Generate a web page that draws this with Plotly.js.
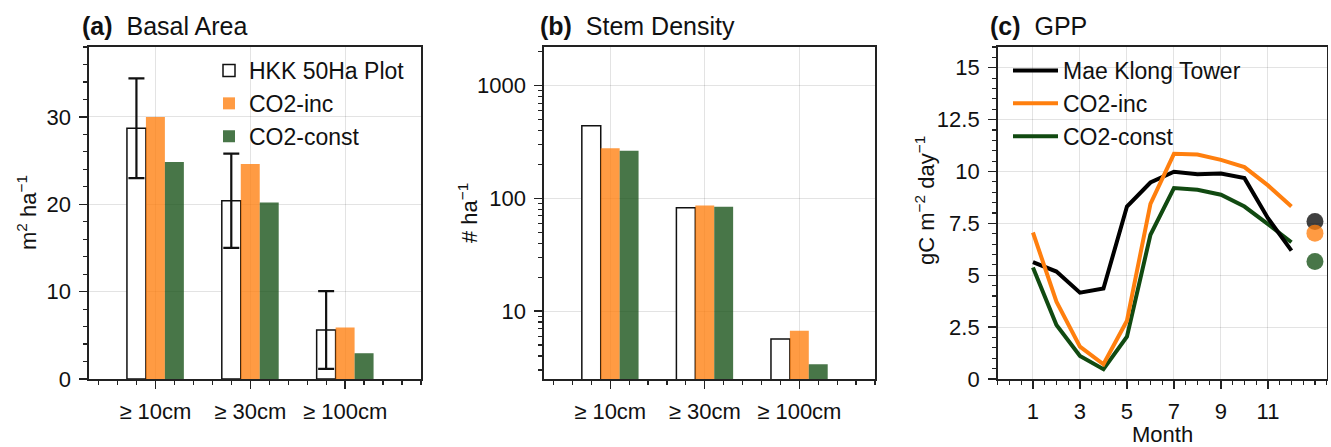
<!DOCTYPE html>
<html>
<head>
<meta charset="utf-8">
<script src="https://cdn.plot.ly/plotly-3.0.1.min.js"></script>
<style>html,body{margin:0;padding:0;background:#fff;}#chart{width:1331px;height:447px;}</style>
</head>
<body>
<div id="chart"></div>
<script>
// ---- data ----
const categories = ['≥ 10cm', '≥ 30cm', '≥ 100cm'];
const basalHKK = [28.7, 20.4, 5.6];
const basalHKKErr = [5.7, 5.4, 4.45];
const basalInc = [30.0, 24.6, 5.9];
const basalConst = [24.85, 20.2, 2.95];
const stemHKK = [441, 82.6, 5.65];
const stemInc = [278, 86.7, 6.7];
const stemConst = [265, 84.4, 3.38];
const months = [1, 2, 3, 4, 5, 6, 7, 8, 9, 10, 11, 12];
const gppTower = [5.63, 5.18, 4.16, 4.36, 8.31, 9.47, 9.99, 9.87, 9.9, 9.68, 7.75, 6.19];
const gppInc = [7.06, 3.73, 1.56, 0.71, 2.81, 8.44, 10.85, 10.82, 10.56, 10.21, 9.33, 8.31];
const gppConst = [5.37, 2.6, 1.11, 0.47, 2.04, 6.95, 9.2, 9.12, 8.88, 8.31, 7.46, 6.59];
const meanPos = [13];
const meanTower = [7.59];
const meanInc = [7.03];
const meanConst = [5.66];
const monthTicks = [1, 3, 5, 7, 9, 11];

// ---- styles ----
const FONT = 'Liberation Sans, Arial, Helvetica, sans-serif';
const ORANGE_BAR = 'rgba(255,127,14,0.78)';
const GREEN_BAR = 'rgba(20,80,20,0.78)';
const ORANGE_LINE = '#ff7f0e';
const GREEN_LINE = '#114a11';
const catIdx = categories.map((_, i) => i);

const traces = [
  {type:'bar', x:catIdx, y:basalHKK, name:'HKK 50Ha Plot', xaxis:'x', yaxis:'y',
   marker:{color:'#ffffff', line:{color:'#111', width:1.5}},
   error_y:{type:'data', array:basalHKKErr, visible:true, color:'#111', thickness:2.2, width:8}},
  {type:'bar', x:catIdx, y:basalInc, name:'CO2-inc', xaxis:'x', yaxis:'y', marker:{color:ORANGE_BAR}},
  {type:'bar', x:catIdx, y:basalConst, name:'CO2-const', xaxis:'x', yaxis:'y', marker:{color:GREEN_BAR}},

  {type:'bar', x:catIdx, y:stemHKK, name:'HKK 50Ha Plot', xaxis:'x2', yaxis:'y2', showlegend:false,
   marker:{color:'#ffffff', line:{color:'#111', width:1.5}}},
  {type:'bar', x:catIdx, y:stemInc, name:'CO2-inc', xaxis:'x2', yaxis:'y2', showlegend:false, marker:{color:ORANGE_BAR}},
  {type:'bar', x:catIdx, y:stemConst, name:'CO2-const', xaxis:'x2', yaxis:'y2', showlegend:false, marker:{color:GREEN_BAR}},

  {type:'scatter', mode:'lines', x:months, y:gppConst, name:'CO2-const', xaxis:'x3', yaxis:'y3',
   legend:'legend2', legendrank:3, line:{color:GREEN_LINE, width:4}},
  {type:'scatter', mode:'lines', x:months, y:gppTower, name:'Mae Klong Tower', xaxis:'x3', yaxis:'y3',
   legend:'legend2', legendrank:1, line:{color:'#000', width:4}},
  {type:'scatter', mode:'lines', x:months, y:gppInc, name:'CO2-inc', xaxis:'x3', yaxis:'y3',
   legend:'legend2', legendrank:2, line:{color:ORANGE_LINE, width:4}},

  {type:'scatter', mode:'markers', x:meanPos, y:meanTower, xaxis:'x3', yaxis:'y3', showlegend:false,
   marker:{color:'rgba(0,0,0,0.75)', size:17}},
  {type:'scatter', mode:'markers', x:meanPos, y:meanInc, xaxis:'x3', yaxis:'y3', showlegend:false,
   marker:{color:ORANGE_BAR, size:17}},
  {type:'scatter', mode:'markers', x:meanPos, y:meanConst, xaxis:'x3', yaxis:'y3', showlegend:false,
   marker:{color:GREEN_BAR, size:17}}
];

const W = 1331, H = 447;
const yDom = [68 / H, 400 / H];
function axBase(extra) {
  return Object.assign({
    showline:true, linecolor:'#222', linewidth:1.6, mirror:true,
    ticks:'outside', ticklen:8, tickwidth:1.3, tickcolor:'#222',
    showgrid:true, gridcolor:'rgba(0,0,0,0.11)', gridwidth:1, zeroline:false,
    tickfont:{family:FONT, size:22, color:'#111'}, ticklabelstandoff:4, fixedrange:true
  }, extra);
}
const logMinor = [];
[1, 10, 100, 1000].forEach(d => { for (let k = 2; k <= 9; k++) logMinor.push(k * d); });
const minorStyle = {ticks:'outside', ticklen:4, tickcolor:'#222', tickwidth:1.2, showgrid:false};

const layout = {
  width:W, height:H, margin:{l:0, r:0, t:0, b:0},
  paper_bgcolor:'#fff', plot_bgcolor:'#fff',
  font:{family:FONT, color:'#111'},
  barmode:'group', bargap:0.4, bargroupgap:0,
  xaxis: axBase({domain:[89/W, 421/W], anchor:'y', range:[-0.7, 2.8], tickmode:'array', tickvals:catIdx, ticktext:categories,
    minor:Object.assign({dtick:0.2, tick0:0}, minorStyle)}),
  yaxis: axBase({domain:yDom, anchor:'x', range:[0, 38], dtick:10,
    minor:Object.assign({dtick:2, tick0:0}, minorStyle)}),
  xaxis2: axBase({domain:[544/W, 875/W], anchor:'y2', range:[-0.7, 2.8], tickmode:'array', tickvals:catIdx, ticktext:categories,
    minor:Object.assign({dtick:0.2, tick0:0}, minorStyle)}),
  yaxis2: axBase({domain:yDom, anchor:'x2', type:'log', range:[0.398, 3.343], tickmode:'array',
    tickvals:[10, 100, 1000], ticktext:['10', '100', '1000'],
    minor:Object.assign({tickmode:'array', tickvals:logMinor}, minorStyle)}),
  xaxis3: axBase({domain:[997.7/W, 1326.7/W], anchor:'y3', range:[-0.5, 13.5], tickmode:'array', tickvals:monthTicks,
    minor:Object.assign({dtick:0.5, tick0:0}, minorStyle)}),
  yaxis3: axBase({domain:yDom, anchor:'x3', range:[0, 16], dtick:2.5,
    minor:Object.assign({dtick:0.5, tick0:0}, minorStyle)}),
  legend: {x:209/W, y:1 - 49/H, xanchor:'left', yanchor:'top', bgcolor:'rgba(0,0,0,0)',
    font:{family:FONT, size:23, color:'#111'}, tracegroupgap:0},
  legend2: {x:1008/W, y:1 - 49/H, xanchor:'left', yanchor:'top', bgcolor:'rgba(0,0,0,0)',
    font:{family:FONT, size:23, color:'#111'}, tracegroupgap:0, itemwidth:45},
  annotations: [
    {text:'<b>(a)</b>  Basal Area', xref:'paper', yref:'paper', x:80/W, y:1 - 26/H, xanchor:'left', yanchor:'middle', showarrow:false, font:{family:FONT, size:25, color:'#111'}},
    {text:'<b>(b)</b>  Stem Density', xref:'paper', yref:'paper', x:538/W, y:1 - 26/H, xanchor:'left', yanchor:'middle', showarrow:false, font:{family:FONT, size:25, color:'#111'}},
    {text:'<b>(c)</b>  GPP', xref:'paper', yref:'paper', x:988/W, y:1 - 26/H, xanchor:'left', yanchor:'middle', showarrow:false, font:{family:FONT, size:25, color:'#111'}},
    {text:'m<sup>2</sup> ha<sup>−1</sup>', xref:'paper', yref:'paper', x:27/W, y:1 - 213/H, xanchor:'center', yanchor:'middle', textangle:-90, showarrow:false, font:{family:FONT, size:22, color:'#111'}},
    {text:'# ha<sup>−1</sup>', xref:'paper', yref:'paper', x:468/W, y:1 - 213/H, xanchor:'center', yanchor:'middle', textangle:-90, showarrow:false, font:{family:FONT, size:22, color:'#111'}},
    {text:'gC m<sup>−2</sup> day<sup>−1</sup>', xref:'paper', yref:'paper', x:925/W, y:1 - 200/H, xanchor:'center', yanchor:'middle', textangle:-90, showarrow:false, font:{family:FONT, size:22, color:'#111'}},
    {text:'Month', xref:'paper', yref:'paper', x:1162/W, y:1 - 420/H, xanchor:'center', yanchor:'top', showarrow:false, font:{family:FONT, size:22, color:'#111'}}
  ]
};

Plotly.newPlot('chart', traces, layout, {displayModeBar:false, staticPlot:true});
</script>
</body>
</html>
